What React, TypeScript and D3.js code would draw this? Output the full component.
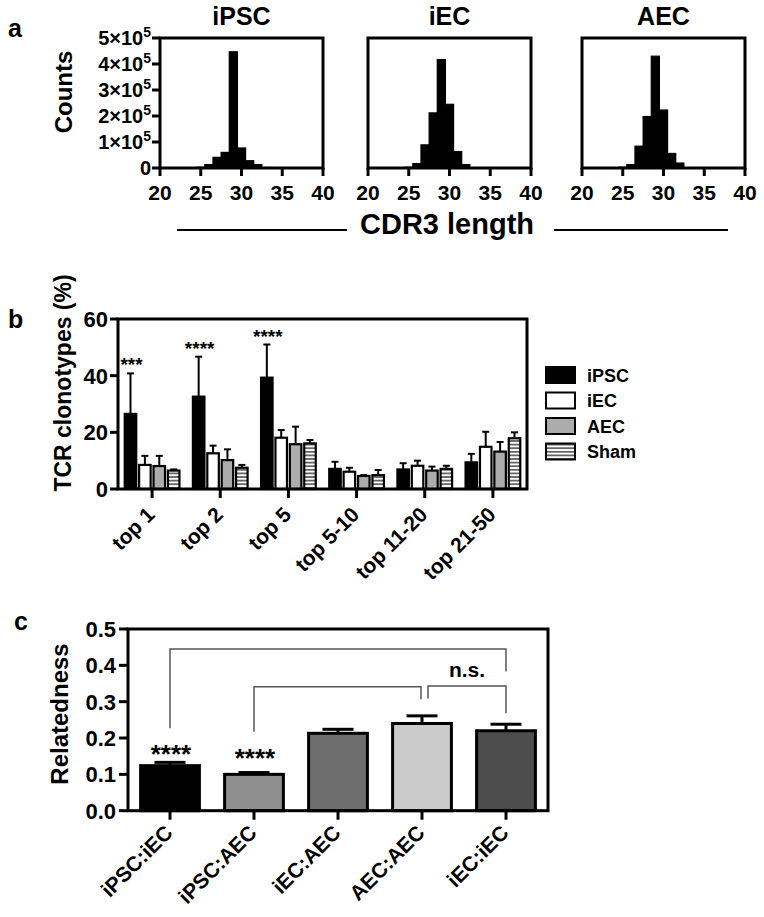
import * as React from 'react'
import * as d3 from 'd3'

const FONT = '"Liberation Sans", Arial, Helvetica, sans-serif'

// ---- panel a : CDR3 length histograms ----
const cdr3Length = [25, 26, 27, 28, 29, 30, 31, 32, 33]
const ipscCounts = [3000, 13000, 41000, 60000, 447000, 77000, 28000, 13000, 2000]
const iecCounts = [3000, 17000, 89000, 212000, 417000, 245000, 63000, 13000, 1000]
const aecCounts = [3000, 13000, 84000, 198000, 430000, 223000, 56000, 19000, 1000]
const histTitles = ['iPSC', 'iEC', 'AEC']
const countTicks = [0, 1, 2, 3, 4, 5]
const lengthTicks = [20, 25, 30, 35, 40]

// ---- panel b : clonotype share ----
const clonoGroups = ['top 1', 'top 2', 'top 5', 'top 5-10', 'top 11-20', 'top 21-50']
const clonoSeries = ['iPSC', 'iEC', 'AEC', 'Sham']
const ipscMean = [26.5, 32.6, 39.3, 7.1, 6.9, 9.4]
const ipscErr = [14.3, 14.1, 11.7, 2.5, 2.2, 3.0]
const iecMean = [8.5, 12.6, 18.1, 6.1, 8.2, 14.9]
const iecErr = [3.2, 2.7, 2.7, 1.4, 1.8, 5.3]
const aecMean = [8.1, 10.2, 15.8, 4.6, 6.5, 13.2]
const aecErr = [3.6, 3.8, 6.2, 0.3, 1.4, 3.4]
const shamMean = [6.5, 7.5, 16.1, 4.9, 7.1, 17.9]
const shamErr = [0.4, 1.0, 1.2, 1.8, 1.1, 2.1]
const clonoStars = ['***', '****', '****', '', '', '']
const clonoTicks = [0, 20, 40, 60]

// ---- panel c : relatedness ----
const pairs = ['iPSC:iEC', 'iPSC:AEC', 'iEC:AEC', 'AEC:AEC', 'iEC:iEC']
const relMean = [0.124, 0.1, 0.213, 0.24, 0.22]
const relErr = [0.009, 0.005, 0.011, 0.021, 0.018]
const relStars = ['****', '****', '', '', '']
const relTicks = [0, 0.1, 0.2, 0.3, 0.4, 0.5]
const bracketFrom = ['iPSC:iEC', 'iPSC:AEC', 'AEC:AEC']
const bracketTo = ['iEC:iEC', 'AEC:AEC', 'iEC:iEC']
const bracketLevel = [0.445, 0.341, 0.343]
const bracketLeftEnd = [0.227, 0.217, 0.309]
const bracketRightEnd = [0.383, 0.307, 0.268]
const bracketLabel = ['', '', 'n.s.']

const seriesFill: Record<string, string> = {
  iPSC: '#000',
  iEC: '#fff',
  AEC: '#acacac',
  Sham: 'url(#stripes)'
}
const pairFill = ['#000', '#8f8f8f', '#6e6e6e', '#cbcbcb', '#4d4d4d']

const HIST_X = [160, 368, 582]
const HIST_W = 163
const HIST_TOP = 38
const HIST_BOTTOM = 168

function Histogram(props: { x0: number; title: string; counts: number[]; showY: boolean }) {
  const { x0, title, counts, showY } = props
  const x = d3.scaleLinear().domain([20, 40]).range([x0, x0 + HIST_W])
  const y = d3.scaleLinear().domain([0, 5e5]).range([HIST_BOTTOM, HIST_TOP])
  return (
    <g>
      <text x={x(30)} y={25} textAnchor="middle" fontSize={25}>
        {title}
      </text>
      {cdr3Length.map((l, i) => (
        <rect
          key={l}
          x={x(l - 0.5)}
          y={y(counts[i])}
          width={x(l + 0.5) - x(l - 0.5)}
          height={HIST_BOTTOM - y(counts[i])}
          fill="#000"
          stroke="#000"
          strokeWidth={1.2}
        />
      ))}
      <rect
        x={x0}
        y={HIST_TOP}
        width={HIST_W}
        height={HIST_BOTTOM - HIST_TOP}
        fill="none"
        stroke="#000"
        strokeWidth={3}
      />
      {lengthTicks.map(t => (
        <g key={t}>
          <line x1={x(t)} x2={x(t)} y1={HIST_BOTTOM} y2={HIST_BOTTOM + 8} stroke="#000" strokeWidth={3} />
          <text x={x(t)} y={200} textAnchor="middle" fontSize={21}>
            {t}
          </text>
        </g>
      ))}
      {showY &&
        countTicks.map(t => (
          <g key={t}>
            <line x1={x0 - 8} x2={x0} y1={y(t * 1e5)} y2={y(t * 1e5)} stroke="#000" strokeWidth={3} />
            <text x={x0 - 9} y={y(t * 1e5) + 7} textAnchor="end" fontSize={20}>
              {t === 0 ? (
                '0'
              ) : (
                <>
                  {t}×10
                  <tspan dy={-8} fontSize={14}>
                    5
                  </tspan>
                </>
              )}
            </text>
          </g>
        ))}
    </g>
  )
}

function PanelA() {
  const allCounts = [ipscCounts, iecCounts, aecCounts]
  return (
    <g>
      <text x={8} y={37} fontSize={25}>
        a
      </text>
      <text transform="translate(72,92) rotate(-90)" textAnchor="middle" fontSize={24}>
        Counts
      </text>
      {histTitles.map((t, i) => (
        <Histogram key={t} x0={HIST_X[i]} title={t} counts={allCounts[i]} showY={i === 0} />
      ))}
      <line x1={177} x2={347} y1={230} y2={230} stroke="#000" strokeWidth={2} />
      <line x1={554} x2={728} y1={230} y2={230} stroke="#000" strokeWidth={2} />
      <text x={447} y={234} textAnchor="middle" fontSize={29}>
        CDR3 length
      </text>
    </g>
  )
}

function PanelB() {
  const left = 118
  const right = 527
  const x = d3.scaleBand().domain(clonoGroups).range([left, right])
  const inner = 54.7
  const xs = d3.scaleBand().domain(clonoSeries).range([0, inner]).paddingInner(0.2)
  const y = d3.scaleLinear().domain([0, 60]).range([489, 319])
  const means = [ipscMean, iecMean, aecMean, shamMean]
  const errs = [ipscErr, iecErr, aecErr, shamErr]
  const off = (x.bandwidth() - inner) / 2
  return (
    <g>
      <text x={8} y={328} fontSize={25}>
        b
      </text>
      <text transform="translate(71,383) rotate(-90)" textAnchor="middle" fontSize={23}>
        TCR clonotypes (%)
      </text>
      {clonoGroups.map((g, gi) => (
        <g key={g}>
          {clonoSeries.map((s, si) => {
            const bx = (x(g) as number) + off + (xs(s) as number)
            const w = xs.bandwidth()
            const cx = bx + w / 2
            const m = means[si][gi]
            const e = errs[si][gi]
            return (
              <g key={s}>
                <line x1={cx} x2={cx} y1={y(m)} y2={y(m + e)} stroke="#000" strokeWidth={2} />
                <line x1={cx - 3.5} x2={cx + 3.5} y1={y(m + e)} y2={y(m + e)} stroke="#000" strokeWidth={2} />
                <rect
                  x={bx}
                  y={y(m)}
                  width={w}
                  height={y(0) - y(m)}
                  fill={seriesFill[s]}
                  stroke="#000"
                  strokeWidth={2.2}
                />
              </g>
            )
          })}
          {clonoStars[gi] && (
            <text
              x={(x(g) as number) + off + (xs('iPSC') as number) + xs.bandwidth() / 2 + 1}
              y={y(ipscMean[gi] + ipscErr[gi]) - 2}
              textAnchor="middle"
              fontSize={19}
            >
              {clonoStars[gi]}
            </text>
          )}
          <line
            x1={(x(g) as number) + x.bandwidth() / 2}
            x2={(x(g) as number) + x.bandwidth() / 2}
            y1={489}
            y2={498}
            stroke="#000"
            strokeWidth={3}
          />
          <text
            transform={`translate(${(x(g) as number) + x.bandwidth() / 2 + 4},516) rotate(-45)`}
            textAnchor="end"
            fontSize={21}
          >
            {g}
          </text>
        </g>
      ))}
      <rect x={left} y={319} width={right - left} height={170} fill="none" stroke="#000" strokeWidth={3} />
      {clonoTicks.map(t => (
        <g key={t}>
          <line x1={left - 8} x2={left} y1={y(t)} y2={y(t)} stroke="#000" strokeWidth={3} />
          <text x={108} y={y(t) + 8} textAnchor="end" fontSize={22}>
            {t}
          </text>
        </g>
      ))}
      {clonoSeries.map((s, i) => (
        <g key={s}>
          <rect
            x={546}
            y={367 + i * 25.5}
            width={29}
            height={16}
            fill={seriesFill[s]}
            stroke="#000"
            strokeWidth={2}
          />
          <text x={587} y={381.5 + i * 25.5} fontSize={18}>
            {s}
          </text>
        </g>
      ))}
    </g>
  )
}

function PanelC() {
  const left = 128
  const right = 548
  const bottom = 810.7
  const top = 629
  const x = d3.scaleBand().domain(pairs).range([left, right]).paddingInner(0.3).paddingOuter(0.15)
  const y = d3.scaleLinear().domain([0, 0.5]).range([bottom, top])
  const center = (p: string) => (x(p) as number) + x.bandwidth() / 2
  const w = x.bandwidth()
  return (
    <g>
      <text x={14} y={630} fontSize={25}>
        c
      </text>
      <text transform="translate(68,714) rotate(-90)" textAnchor="middle" fontSize={24}>
        Relatedness
      </text>
      {bracketFrom.map((f, i) => {
        // brackets sharing a bar are pulled apart a little
        const sharedEnd = bracketFrom.indexOf(bracketTo[i]) >= 0 && i < bracketFrom.indexOf(bracketTo[i])
        const sharedStart = bracketTo.indexOf(f) >= 0 && bracketTo.indexOf(f) < i
        const x1 = center(f) + (sharedStart ? 6 : 0)
        const x2 = center(bracketTo[i]) - (sharedEnd ? 1 : 0)
        return (
          <g key={i}>
            <path
              d={`M${x1},${y(bracketLeftEnd[i])}V${y(bracketLevel[i])}H${x2}V${y(bracketRightEnd[i])}`}
              fill="none"
              stroke="#555"
              strokeWidth={1.5}
            />
            {bracketLabel[i] && (
              <text x={(x1 + x2) / 2} y={y(bracketLevel[i]) - 9} textAnchor="middle" fontSize={21}>
                {bracketLabel[i]}
              </text>
            )}
          </g>
        )
      })}
      {pairs.map((p, i) => (
        <g key={p}>
          <line
            x1={center(p)}
            x2={center(p)}
            y1={y(relMean[i])}
            y2={y(relMean[i] + relErr[i])}
            stroke="#000"
            strokeWidth={3}
          />
          <line
            x1={center(p) - 15.5}
            x2={center(p) + 15.5}
            y1={y(relMean[i] + relErr[i])}
            y2={y(relMean[i] + relErr[i])}
            stroke="#000"
            strokeWidth={3}
          />
          <rect
            x={x(p) as number}
            y={y(relMean[i])}
            width={w}
            height={bottom - y(relMean[i])}
            fill={pairFill[i]}
            stroke="#000"
            strokeWidth={3}
          />
          {relStars[i] && (
            <text
              x={center(p) + 1}
              y={y(bracketLeftEnd[bracketFrom.indexOf(p)]) + 35}
              textAnchor="middle"
              fontSize={26}
            >
              {relStars[i]}
            </text>
          )}
          <line x1={center(p)} x2={center(p)} y1={bottom} y2={bottom + 9} stroke="#000" strokeWidth={3} />
          <text
            transform={`translate(${center(p) + 4},834) rotate(-45)`}
            textAnchor="end"
            fontSize={21}
          >
            {p}
          </text>
        </g>
      ))}
      <rect x={left} y={top} width={right - left} height={bottom - top} fill="none" stroke="#000" strokeWidth={3} />
      {relTicks.map(t => (
        <g key={t}>
          <line x1={left - 9} x2={left} y1={y(t)} y2={y(t)} stroke="#000" strokeWidth={3} />
          <text x={116} y={y(t) + 8} textAnchor="end" fontSize={22}>
            {d3.format('.1f')(t)}
          </text>
        </g>
      ))}
    </g>
  )
}

export default function App() {
  return (
    <svg
      width={764}
      height={917}
      style={{ position: 'absolute', left: 0, top: 0, background: '#fff' }}
      fontFamily={FONT}
      fontWeight="bold"
    >
      <defs>
        <pattern id="stripes" patternUnits="userSpaceOnUse" width={6} height={3.6}>
          <rect width={6} height={3.6} fill="#fff" />
          <line x1={0} x2={6} y1={1.8} y2={1.8} stroke="#000" strokeWidth={1.1} />
        </pattern>
      </defs>
      <PanelA />
      <PanelB />
      <PanelC />
    </svg>
  )
}
